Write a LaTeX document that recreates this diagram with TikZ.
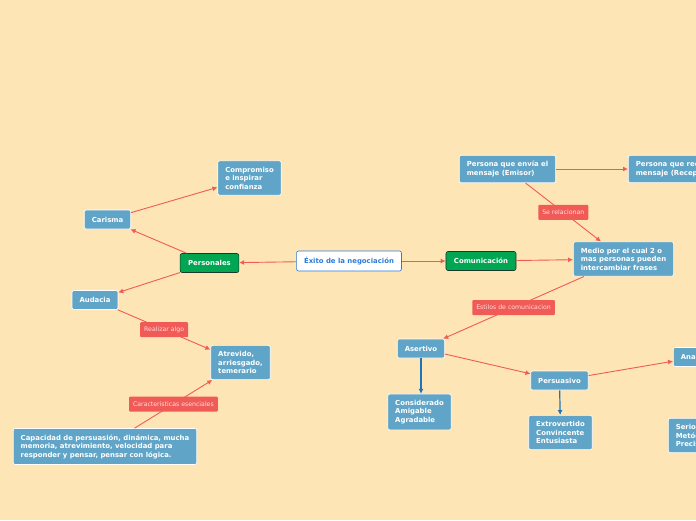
\documentclass[tikz,border=0pt]{standalone}
\usepackage{fontspec}
\setmainfont{DejaVu Sans}
\usetikzlibrary{arrows.meta,positioning}
\definecolor{mpeach}{HTML}{FEE5B6}
\definecolor{mblue}{HTML}{60A5C8}
\definecolor{mgreen}{HTML}{00A651}
\definecolor{mdark}{HTML}{1B3A2A}
\definecolor{mred}{HTML}{F05B58}
\definecolor{mpink}{HTML}{FFDCDC}
\definecolor{mlink}{HTML}{1E74B8}
\definecolor{mroot}{HTML}{2C7BD6}

\begin{document}
\begin{tikzpicture}[x=1pt,y=-1pt,every node/.style={font=\fontsize{6.9}{8.5}\selectfont\bfseries,align=left,text=white},box/.style={draw=white,fill=mblue,rounded corners=2pt,line width=.6pt,inner xsep=7.5pt,inner ysep=6pt,minimum height=19pt},topic/.style={box,fill=mgreen,draw=mdark,inner xsep=8pt},root/.style={box,fill=white,draw=mroot,text=mroot,minimum height=20pt},lbl/.style={fill=mred,text=mpink,rounded corners=1pt,font=\fontsize{6.2}{7}\selectfont,inner xsep=4pt,inner ysep=3pt,minimum height=15pt},arr/.style={-{Latex[length=5pt,width=5pt]},mred,line width=.9pt},down/.style={-{Latex[length=5pt,width=5pt]},mlink,line width=1.2pt}]
\clip (0,0) rectangle (696,520);
\fill[mpeach] (0,0) rectangle (696,520);
\node[root] (exito) at (349,261) {Éxito de la negociación};
\node[topic] (pers) at (209.5,263) {Personales};
\node[topic] (comu) at (481,261) {Comunicación};
\node[box] (caris) at (107.5,219.5) {Carisma};
\node[box] (compr) at (249.5,178) {Compromiso\\e inspirar\\confianza};
\node[box] (auda) at (95,300) {Audacia};
\node[box] (atrev) at (240.5,362.5) {Atrevido,\\arriesgado,\\temerario};
\node[box] (capac) at (105,446.5) {Capacidad de persuasión, dinámica, mucha\\memoria, atrevimiento, velocidad para\\responder y pensar, pensar con lógica.};
\node[box] (emisor) at (507.5,169) {Persona que envía el\\mensaje (Emisor)};
\node[box,anchor=west] (recep) at (628,169) {Persona que recibe el\\mensaje (Receptor)};
\node[box] (medio) at (623.5,259) {Medio por el cual 2 o\\mas personas pueden\\intercambiar frases};
\node[box] (aser) at (421,348.5) {Asertivo};
\node[box] (consid) at (419.5,412) {Considerado\\Amigable\\Agradable};
\node[box] (persu) at (559.5,380.5) {Persuasivo};
\node[box] (extro) at (560.5,432.5) {Extrovertido\\Convincente\\Entusiasta};
\node[box,anchor=west] (anal) at (673,357) {Analítico};
\node[box,anchor=west] (serio) at (668,435.5) {Serio\\Metódico\\Preciso};
\draw[arr] (exito) -- (pers);
\draw[arr] (exito) -- (comu);
\draw[arr] (pers) -- (caris);
\draw[arr] (caris) -- (compr);
\draw[arr] (pers) -- (auda);
\draw[arr] (auda) -- node[lbl] (realiz) {Realizar algo} (atrev);
\draw[arr] (capac) -- node[lbl] (caract) {Caracteristicas esenciales} (atrev);
\draw[arr] (comu) -- (medio);
\draw[arr] (emisor) -- (recep);
\draw[arr] (emisor) -- node[lbl] (serel) {Se relacionan} (medio);
\draw[arr] (medio) -- node[lbl] (estilos) {Estilos de comunicacion} (aser);
\draw[arr] (aser) -- (persu);
\draw[arr] (persu) -- (anal);
\draw[down] (aser) -- (aser |- consid.north);
\draw[down] (persu) -- (extro);
\end{tikzpicture}
\end{document}
